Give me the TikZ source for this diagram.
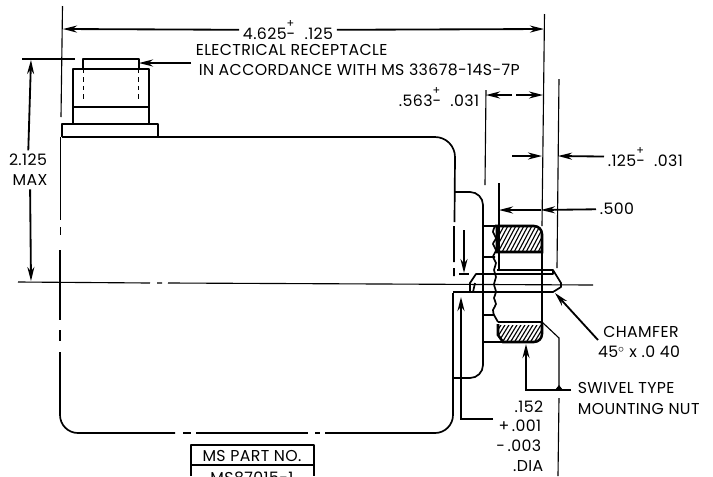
\documentclass[tikz,border=0pt]{standalone}
\usepackage{fontspec}
\setmainfont[LetterSpace=2.5]{Poppins}
\usetikzlibrary{arrows.meta}

\newcommand{\tolsign}{\rlap{\raisebox{1.3ex}{\fontsize{8}{8}\selectfont +}}-}

\tikzset{
	objline/.style={line width=1.2pt,line join=round},
	thinline/.style={line width=0.8pt},
	dimline/.style={line width=1.3pt,-{Stealth[length=10pt,width=5pt]}},
	label/.style={inner sep=2.5pt,font=\fontsize{11.2}{13}\selectfont},
}

\begin{document}
\begin{tikzpicture}[x=0.025cm,y=-0.025cm]
	\clip (0,0) rectangle (713,476);

	% Body
	\draw[objline] (60.5,137) -- (60.5,220) (60.5,227) -- (60.5,235) (60,250) -- (60,320) (60,330) -- (60,341);
	\draw[objline] (60,352) -- (60,415) arc (180:90:18) -- (175,433);
	\draw[objline] (183,433) -- (191,433) (196,433) -- (308,433) (315,433) -- (320,433) (325,433) -- (330,433);
	\draw[objline] (330,433) -- (435,433) arc (90:0:18) -- (453,293);
	\draw[objline] (62,137) -- (435,137) arc (-90:0:20) -- (454.5,222) (454,226) -- (454,262) (454,268) -- (454,276);

	% Receptacle
	\draw[objline] (62,137) -- (62,124) -- (158,124) -- (158,137);
	\draw[objline] (62,124) -- (73,124) -- (73,69) -- (149,69) -- (149,124);
	\draw[objline] (73,107) -- (149,107);
	\draw[objline] (83,69) -- (83,59) -- (139,59) -- (139,69);
	\draw[thinline,dashed] (83.5,69) -- (83.5,100) (138.5,69) -- (138.5,100);

	% Flange
	\draw[objline] (455,192) -- (470,192) arc (-90:0:13) -- (483,365) arc (0:90:13) -- (453,378);
	\draw[objline] (483,226) -- (497,226) (483,257) -- (495,257) (483,315) -- (494,315) -- (498,322) (483,342) -- (503,342);

	% Break line
	\draw[objline] plot[smooth] coordinates {(495,226) (493,232) (496,238) (493,244) (496,250) (493,257) (496,263) (494,270) (496,277) (494,284) (496,292) (494,298) (496,304) (493,310) (494,315)};

	% Nut
	\begin{scope}
		\clip (497,226) -- (534,226) arc (-90:0:8) -- (542,252) -- (497,252) -- cycle;
		\foreach \hx in {480,484,...,560}
			\draw[thinline] (\hx,256) -- (\hx+18,222);
	\end{scope}
	\begin{scope}
		\clip (498,325) -- (542,325) -- (542,334) arc (0:90:8) -- (503,342) -- (498,335) -- cycle;
		\foreach \hx in {480,484,...,560}
			\draw[thinline] (\hx,346) -- (\hx+16,320);
	\end{scope}
	\draw[line width=1.8pt] (495,226) -- (534,226) arc (-90:0:8) -- (542,252) -- (497,252) -- (497,226);
	\draw[line width=1.8pt] (498,324) -- (498,335) -- (503,342) -- (534,342) arc (90:0:8) -- (542,323);
	\draw[objline] (498,322) -- (542,322) (542,252) -- (542,322);

	% Shaft
	\draw[objline] (497,270) -- (553,270) -- (561,283) -- (561,287) -- (553,292) -- (453,292);
	\draw[objline] (553,270) -- (553,274) -- (476,274) -- (470,283) -- (470,292) -- (473,292) -- (475,283);

	% Center line
	\draw[thinline] (18,282) -- (150,283) (157,283) -- (162,283) (168,283) -- (593,285);

	% Extension lines
	\draw[thinline] (62.5,6) -- (61,117);
	\draw[thinline] (544.5,14) -- (542,226);
	\draw[thinline] (559,79) -- (557,268);
	\draw[thinline] (486,90) -- (485,185);
	\draw[thinline] (499,183) -- (499,270);
	\draw[thinline] (22,59) -- (75,59);
	\draw[thinline] (542,322) -- (559,338) -- (559,390);
	\draw[thinline] (559,398) -- (558,476);

	% Overall length
	\node[label] (overall) at (288,30) {4.625\tolsign\ \ .125};
	\coordinate (overallleft) at (63,29);
	\coordinate (overallright) at (544,29);
	\draw[dimline] (overall) -- (overallleft);
	\draw[dimline] (overall) -- (overallright);

	% Height
	\node[label] (height) at (28,160) {2.125};
	\node[label] (heightmax) at (30,180) {MAX};
	\coordinate (heighttop) at (31,60);
	\coordinate (heightbottom) at (31,281);
	\draw[dimline] (height) -- (heighttop);
	\draw[dimline] (heightmax) -- (heightbottom);

	% Receptacle note
	\node[label,anchor=west] (recept) at (192,50) {ELECTRICAL RECEPTACLE};
	\node[label,anchor=west] (acc) at (195,70) {IN ACCORDANCE WITH MS 33678-14S-7P};
	\coordinate (receptend) at (191,63);
	\coordinate (recepttip) at (139,63);
	\draw[dimline] (receptend) -- (recepttip);

	% Flange setback
	\node[label,anchor=east] (setback) at (483,97) {.563\tolsign\ \ .031};
	\coordinate (setbackmid) at (512,95);
	\coordinate (setbackgap) at (516,95);
	\coordinate (setbackleft) at (486,95);
	\coordinate (setbackright) at (543,95);
	\draw[dimline] (setbackmid) -- (setbackleft);
	\draw[dimline] (setbackgap) -- (setbackright);

	% Chamfer width
	\node[label,anchor=west] (flat) at (604,157) {.125\tolsign\ \ .031};
	\coordinate (flatstart) at (512,156);
	\coordinate (flatleft) at (542,156);
	\coordinate (flatright) at (558,156);
	\draw[dimline] (flatstart) -- (flatleft);
	\draw[dimline] (flat) -- (flatright);

	% Nut width
	\node[label,anchor=west] (nutwidth) at (596,209) {.500};
	\coordinate (nutmid) at (541,210);
	\coordinate (nutleft) at (499,210);
	\draw[dimline] (nutwidth) -- (nutmid);
	\draw[dimline] (nutmid) -- (nutleft);

	% Shaft diameter
	\coordinate (diatop) at (464,230);
	\coordinate (diatoptip) at (464,273);
	\coordinate (diabottom) at (461,297);
	\coordinate (diaend) at (493,419);
	\draw[dimline] (diatop) -- (diatoptip);
	\draw[thinline] (459,274) -- (469,274);
	\draw[dimline] (diaend) -| (diabottom);
	\node[label,anchor=east] (diaa) at (547,407) {.152};
	\node[label,anchor=east] (diab) at (545,426) {+\,.001};
	\node[label,anchor=east] (diac) at (545,446) {-\,.003};
	\node[label,anchor=east] (diad) at (547,466) {.DIA};

	% Chamfer note
	\node[label] (chamfer) at (641,332) {CHAMFER};
	\node[label] (chamfersize) at (639,352) {45$^{\circ}$ x .0 40};
	\coordinate (chamferstart) at (598,340);
	\coordinate (chamfertip) at (555,293);
	\draw[dimline] (chamferstart) -- (chamfertip);

	% Nut note
	\node[label,anchor=west] (swivel) at (574,388) {SWIVEL TYPE};
	\node[label,anchor=west] (mounting) at (574,409) {MOUNTING NUT};
	\coordinate (swivelend) at (571,390);
	\coordinate (swiveltip) at (526,344);
	\draw[dimline] (swivelend) -| (swiveltip);
	\fill (555,390) -- (559,385) -- (563,390) -- cycle;

	% Part table
	\draw[objline] (191,476) -- (191,445) -- (314,445) -- (314,476);
	\draw[objline] (191,465) -- (314,465);
	\node[label] (partno) at (252,456) {MS PART NO.};
	\node[label] (part) at (252,478) {MS87015-1};
\end{tikzpicture}
\end{document}
